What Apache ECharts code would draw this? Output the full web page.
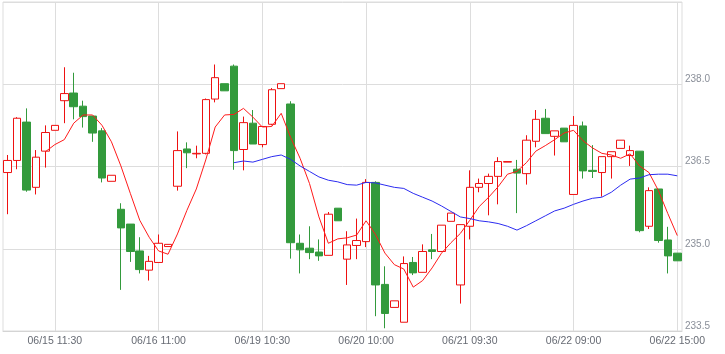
<!DOCTYPE html>
<html lang="en">
<head>
    <meta charset="UTF-8">
    <title>K line</title>
    <script src="https://cdn.jsdelivr.net/npm/echarts@6.0.0/dist/echarts.min.js"></script>
    <style type="text/css">
        body { margin: 0; background: #fff; }
    </style>
</head>
<body>
<div id="myChart" style="width: 725px;height:354px;"></div>

<script>
    // trading days and the 12 half hour slots of each day
    var days = ['06/15', '06/16', '06/19', '06/20', '06/21', '06/22'];
    var slots = ['09:00', '09:30', '10:00', '10:30', '11:00', '11:30',
                 '13:00', '13:30', '14:00', '14:30', '14:45', '15:00'];

    var openP = [236.39, 236.61, 237.31, 236.12, 236.78, 237.16, 237.70, 237.84, 237.60, 237.42, 237.15, 236.23,
                 235.72, 235.45, 234.96, 234.61, 234.75, 235.04, 236.14, 236.82, 236.73, 236.74, 237.73, 238.01,
                 238.33, 236.81, 237.29, 236.90, 237.27, 237.92, 237.64, 235.10, 235.01, 234.94, 234.88, 235.74,
                 234.81, 235.06, 235.13, 236.21, 234.35, 233.93, 233.66, 234.75, 234.57, 234.98, 234.95, 235.50,
                 234.34, 235.41, 236.12, 236.19, 236.32, 236.58, 236.45, 236.37, 236.96, 237.38, 237.05, 237.20,
                 235.99, 237.24, 236.43, 236.39, 236.68, 236.83, 236.70, 236.78, 235.41, 236.09, 235.16, 234.92];
    var closeP = [236.61, 237.38, 236.07, 236.67, 237.12, 237.25, 237.83, 237.59, 237.41, 237.11, 236.29, 236.34,
                  235.38, 234.95, 234.62, 234.77, 235.10, 235.08, 236.79, 236.75, 236.74, 237.72, 238.12, 237.88,
                  236.79, 237.30, 236.91, 237.23, 237.90, 238.01, 235.11, 234.98, 234.93, 234.87, 235.63, 235.51,
                  235.07, 235.15, 236.21, 234.34, 233.82, 234.05, 234.73, 234.56, 234.95, 234.95, 235.43, 235.65,
                  235.44, 236.12, 236.19, 236.32, 236.59, 236.59, 236.38, 236.98, 237.36, 237.10, 237.15, 236.95,
                  237.25, 236.42, 236.41, 236.68, 236.77, 236.98, 236.79, 235.33, 236.06, 235.15, 234.87, 234.78];
    var lowP = [235.63, 236.45, 236.04, 235.99, 236.48, 237.16, 237.29, 237.36, 237.21, 236.95, 236.21, 236.23,
                234.25, 234.76, 234.55, 234.42, 234.75, 235.04, 236.06, 236.47, 236.65, 236.72, 237.67, 237.88,
                236.44, 236.43, 236.91, 236.85, 237.25, 237.92, 234.82, 234.55, 234.81, 234.78, 234.88, 235.51,
                234.34, 234.81, 235.03, 233.77, 233.55, 233.93, 233.66, 234.52, 234.57, 234.81, 234.95, 235.50,
                234.00, 235.17, 236.03, 235.61, 235.81, 236.58, 235.65, 236.17, 236.85, 237.10, 236.70, 236.95,
                235.99, 236.28, 236.29, 235.95, 236.28, 236.83, 236.51, 235.30, 235.36, 235.11, 234.55, 234.78];
    var highP = [236.71, 237.40, 237.56, 236.80, 237.25, 237.25, 238.31, 238.21, 237.70, 237.42, 237.20, 236.34,
                 235.83, 235.45, 235.21, 234.87, 235.26, 235.08, 237.14, 236.94, 236.88, 237.74, 238.36, 238.01,
                 238.36, 237.41, 237.53, 237.23, 237.93, 238.01, 237.69, 235.26, 235.41, 235.17, 235.67, 235.74,
                 235.32, 235.55, 236.27, 236.23, 234.68, 234.05, 234.86, 234.85, 235.08, 235.27, 235.43, 235.65,
                 235.44, 236.43, 236.28, 236.37, 236.67, 236.59, 236.62, 237.07, 237.53, 237.55, 237.15, 237.20,
                 237.42, 237.32, 236.89, 236.68, 236.77, 236.98, 236.88, 236.78, 236.12, 236.09, 235.40, 234.92];

    var ma5 = ['-', '-', '-', '-', 236.77, 236.90, 236.99, 237.29, 237.44, 237.44, 237.25, 236.95,
               236.51, 236.01, 235.52, 235.21, 234.96, 234.90, 235.27, 235.70, 236.09, 236.62, 237.22, 237.44,
               237.45, 237.56, 237.40, 237.22, 237.23, 237.47, 237.03, 236.65, 236.19, 235.58, 235.10, 235.18,
               235.20, 235.25, 235.51, 235.26, 234.92, 234.71, 234.63, 234.30, 234.42, 234.65, 234.92, 235.11,
               235.28, 235.52, 235.77, 235.94, 236.13, 236.36, 236.41, 236.57, 236.78, 236.88, 236.99, 237.11,
               237.16, 236.97, 236.84, 236.74, 236.71, 236.65, 236.73, 236.51, 236.39, 236.06, 235.64, 235.24];
    var ma25 = ['-', '-', '-', '-', '-', '-', '-', '-', '-', '-', '-', '-',
                '-', '-', '-', '-', '-', '-', '-', '-', '-', '-', '-', '-',
                236.57, 236.60, 236.58, 236.63, 236.68, 236.71, 236.63, 236.51, 236.41, 236.31, 236.25, 236.22,
                236.17, 236.16, 236.21, 236.20, 236.16, 236.12, 236.10, 236.01, 235.94, 235.87, 235.78, 235.68,
                235.58, 235.55, 235.51, 235.49, 235.46, 235.41, 235.34, 235.42, 235.51, 235.60, 235.69, 235.74,
                235.81, 235.87, 235.92, 235.94, 236.03, 236.16, 236.27, 236.29, 236.35, 236.36, 236.36, 236.33];

    var yTicks = ['233.5', '235.0', '236.5', '238.0', '239.5'];
    var labelIdx = [5, 16, 27, 38, 49, 60, 71];

    var categories = [];
    for (var d = 0; d < days.length; d++) {
        for (var s = 0; s < slots.length; s++) {
            categories.push(days[d] + ' ' + slots[s]);
        }
    }

    var kData = [];
    for (var i = 0; i < openP.length; i++) {
        kData.push([openP[i], closeP[i], lowP[i], highP[i]]);
    }

    var upColor = '#ee1111';
    var downColor = '#339a3c';

    var myChart = echarts.init(document.getElementById('myChart'));

    var option = {
        animation: false,
        textStyle: { fontFamily: 'Liberation Sans' },
        grid: {
            left: 3, right: 43, top: 2, bottom: 23,
            show: true,
            borderColor: '#dddddd',
            borderWidth: 1
        },
        xAxis: {
            type: 'category',
            data: categories,
            boundaryGap: true,
            axisLine: { lineStyle: { color: '#d4d4d4' } },
            axisTick: { show: false },
            splitLine: { show: false },
            axisLabel: {
                interval: function (index) {
                    return labelIdx.indexOf(index) >= 0;
                },
                color: '#666a73',
                fontSize: 10.5,
                margin: 5
            }
        },
        yAxis: [
            {
                // visible scale: 0..4 maps to 233.5..239.5
                type: 'value',
                position: 'right',
                min: 0,
                max: 4,
                interval: 1,
                axisLine: { show: false },
                axisTick: { show: false },
                splitLine: { lineStyle: { color: '#dddddd' } },
                axisLabel: {
                    showMaxLabel: false,
                    formatter: function (v) { return yTicks[v]; },
                    verticalAlign: 'bottom',
                    margin: 3,
                    color: '#8a8f99',
                    fontSize: 10
                }
            },
            {
                type: 'value',
                show: false,
                min: 233.5,
                max: 239.5
            }
        ],
        series: [
            {
                name: 'K',
                type: 'candlestick',
                yAxisIndex: 1,
                barWidth: 8,
                data: kData,
                itemStyle: {
                    color: '#ffffff',
                    color0: downColor,
                    borderColor: upColor,
                    borderColor0: downColor,
                    borderWidth: 1
                },
                markLine: {
                    silent: true,
                    z: 1,
                    symbol: ['none', 'none'],
                    label: { show: false },
                    lineStyle: { color: '#dddddd', type: 'solid', width: 1 },
                    data: labelIdx.map(function (i) { return { xAxis: i }; })
                }
            },
            {
                name: 'MA5',
                type: 'line',
                yAxisIndex: 1,
                data: ma5,
                symbol: 'none',
                lineStyle: { color: '#ff1a1a', width: 1 }
            },
            {
                name: 'MA25',
                type: 'line',
                yAxisIndex: 1,
                data: ma25,
                symbol: 'none',
                lineStyle: { color: '#2b2bf0', width: 1 }
            }
        ]
    };

    myChart.setOption(option);
</script>
</body>
</html>
